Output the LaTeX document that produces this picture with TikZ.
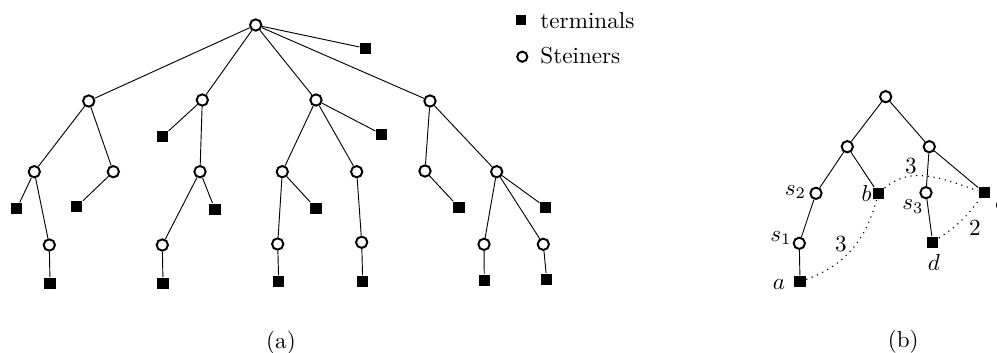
\documentclass[tikz,border=0pt]{standalone}
\begin{document}
\begin{tikzpicture}[x=0.4325pt,y=-0.4325pt,
  stn/.style={circle,draw,line width=0.85pt,minimum size=4.9pt,inner sep=0pt,fill=white},
  trm/.style={rectangle,fill=black,minimum size=5pt,inner sep=0pt},
  lbl/.style={inner sep=0pt},
  dotl/.style={dotted,line width=0.5pt}]
\useasboundingbox (0,0) rectangle (997,353);
% ---------- (a) ----------
\node[stn] (r) at (255.7,25) {};
\node[trm] (t0) at (365.7,48.3) {};
\node[stn] (a1) at (88.7,101) {};
\node[stn] (a2) at (202.3,100) {};
\node[stn] (a3) at (316,100) {};
\node[stn] (a4) at (430,101) {};
\node[trm] (ta2) at (162.3,136.7) {};
\node[trm] (ta3) at (381.7,134.3) {};
\node[stn] (b1) at (34.3,171.7) {};
\node[stn] (b2) at (113.3,171.7) {};
\node[stn] (b3) at (200,171.7) {};
\node[stn] (b4) at (282.3,171.7) {};
\node[stn] (b5) at (356.7,171.7) {};
\node[stn] (b6) at (425,171) {};
\node[stn] (b7) at (496.7,171.7) {};
\node[trm] (tb1) at (16.7,208.7) {};
\node[trm] (tb2) at (76.7,206.7) {};
\node[trm] (tb3) at (215,209.3) {};
\node[trm] (tb4) at (316,208.3) {};
\node[trm] (tb6) at (459,207.5) {};
\node[trm] (tb7) at (545.7,207.3) {};
\node[stn] (c1) at (49.3,245) {};
\node[stn] (c3) at (162.3,245) {};
\node[stn] (c4) at (277.7,244) {};
\node[stn] (c5) at (361.7,242.3) {};
\node[stn] (c6) at (484,244.3) {};
\node[stn] (c7) at (543.3,244.3) {};
\node[trm] (tc1) at (50,283.3) {};
\node[trm] (tc3) at (163,283.3) {};
\node[trm] (tc4) at (278.7,281.7) {};
\node[trm] (tc5) at (362.7,281.7) {};
\node[trm] (tc6) at (484.3,280.3) {};
\node[trm] (tc7) at (546.7,279.3) {};
\draw (r) -- (a1) (r) -- (a2) (r) -- (a3) (r) -- (a4) (r) -- (t0);
\draw (a1) -- (b1) (a1) -- (b2);
\draw (b1) -- (tb1) (b1) -- (c1) (c1) -- (tc1) (b2) -- (tb2);
\draw (a2) -- (ta2) (a2) -- (b3) (b3) -- (c3) (b3) -- (tb3) (c3) -- (tc3);
\draw (a3) -- (b4) (a3) -- (b5) (a3) -- (ta3);
\draw (b4) -- (c4) (b4) -- (tb4) (c4) -- (tc4) (b5) -- (c5) (c5) -- (tc5);
\draw (a4) -- (b6) (a4) -- (b7) (b6) -- (tb6);
\draw (b7) -- (c6) (b7) -- (c7) (b7) -- (tb7) (c6) -- (tc6) (c7) -- (tc7);
% legend
\node[trm,minimum size=4.6pt] (lt) at (521,20) {};
\node[lbl,anchor=west] (ltt) at (540,21) {terminals};
\node[stn,minimum size=4.4pt] (ls) at (522.3,56.7) {};
\node[lbl,anchor=west] (lst) at (540,55.5) {Steiners};
\node (capa) at (281,342.5) {(a)};
% ---------- (b) ----------
\node[stn] (R) at (885.7,96.7) {};
\node[stn] (L) at (847.3,146.7) {};
\node[stn] (Rr) at (929.3,146.7) {};
\node[stn] (s2) at (816,193.3) {};
\node[trm] (b) at (878.3,193.3) {};
\node[stn] (s3) at (926,192.7) {};
\node[trm] (c) at (984.3,192.7) {};
\node[stn] (s1) at (799.3,243.3) {};
\node[trm] (d) at (932.7,242.3) {};
\node[trm] (a) at (800,281.7) {};
\draw (R) -- (L) (R) -- (Rr) (L) -- (s2) (L) -- (b) (s2) -- (s1) (s1) -- (a);
\draw (Rr) -- (s3) (Rr) -- (c) (s3) -- (d);
\draw[dotl] (a) to[out=20,in=-105] (b);
\draw[dotl] (b) to[out=40,in=162] (c);
\draw[dotl] (d) to[bend right=10] (c);
\node[lbl] (ls2) at (795.5,192) {$s_2$};
\node[lbl] (lb) at (866.7,193) {$b$};
\node[lbl] (ls3) at (913,206.5) {$s_3$};
\node[lbl] (ls1) at (781,238) {$s_1$};
\node[lbl] (ld) at (934,262) {$d$};
\node[lbl] (la) at (779,285) {$a$};
\node[lbl] (lc) at (1000,205) {$c$};
\node[lbl] (w1) at (911,166) {3};
\node[lbl] (w2) at (841,244) {3};
\node[lbl] (w3) at (975,228) {2};
\node (capb) at (903.3,341.5) {(b)};
\end{tikzpicture}
\end{document}
